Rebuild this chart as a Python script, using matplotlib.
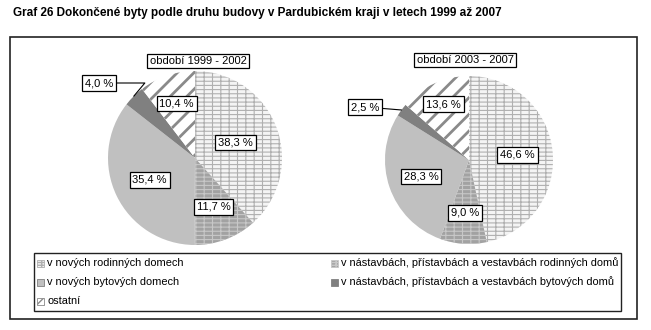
import numpy as np
import matplotlib.pyplot as plt
from matplotlib.patches import Rectangle

plt.rcParams['font.family'] = ['Liberation Sans', 'DejaVu Sans']

title = 'Graf 26 Dokončené byty podle druhu budovy v Pardubickém kraji v letech 1999 až 2007'
categories = ['v nových rodinných domech',
              'v nástavbách, přístavbách a vestavbách rodinných domů',
              'v nových bytových domech',
              'v nástavbách, přístavbách a vestavbách bytových domů',
              'ostatní']
period_titles = ['období 1999 - 2002', 'období 2003 - 2007']
share_9902 = [38.3, 11.7, 35.4, 4.0, 10.4]
share_0307 = [46.6, 9.0, 28.3, 2.5, 13.6]

# styles per category: face, hatch colour, hatch (density is x6 lines per inch)
faces = ['#f4f4f4', '#a2a2a2', '#c0c0c0', '#808080', '#ffffff']
hcols = ['#b0b0b0', '#c8c8c8', '#c0c0c0', '#808080', '#8a8a8a']
hatches = ['----||', '----||', None, None, '//']

W, H = 651, 330
fig = plt.figure(figsize=(W / 100, H / 100), dpi=100)
ax = fig.add_axes([0, 0, 1, 1])


def Y(py):
    return H - py


def draw_pie(vals, cx, cy, r, ttl, tx, ty, fracs, small, conn):
    wedges, _ = ax.pie(vals, startangle=90, counterclock=False,
                       center=(cx, Y(cy)), radius=r, frame=True,
                       colors=faces, wedgeprops=dict(linewidth=0))
    for w, h, hc in zip(wedges, hatches, hcols):
        w.set_edgecolor(hc)
        if h:
            w.set_hatch(h)
            w.set_hatch_linewidth(2.0 if h.startswith('/') else 0.8)
    box = dict(boxstyle='square,pad=0.25', fc='white', ec='black', lw=0.9)
    for i, (w, v) in enumerate(zip(wedges, vals)):
        a = np.deg2rad((w.theta1 + w.theta2) / 2)
        lab = f'{v:.1f} %'.replace('.', ',')
        if i == small[0]:
            ex, ey = cx + r * np.cos(a), Y(cy) + r * np.sin(a)
            bx, by = small[1], small[2]
            ax.annotate(lab, xy=(ex, ey), xytext=(bx, Y(by)), fontsize=8,
                        ha='center', va='center', bbox=box,
                        arrowprops=dict(arrowstyle='-', lw=0.8, color='black',
                                        shrinkA=0, shrinkB=0,
                                        connectionstyle=conn))
        else:
            d = fracs[i] * r
            ax.text(cx + d * np.cos(a), Y(cy) + d * np.sin(a), lab, fontsize=8,
                    ha='center', va='center', bbox=box)
    ax.text(tx, Y(ty), ttl, fontsize=8, ha='center', va='center',
            bbox=dict(boxstyle='square,pad=0.2', fc='white', ec='black', lw=0.9))


draw_pie(share_9902, 195, 158, 87, period_titles[0], 198, 61,
         [0.5, 0.6, 0.58, 0, 0.66], (3, 99, 83), 'angle,angleA=0,angleB=50,rad=0')
draw_pie(share_0307, 469, 160, 84, period_titles[1], 465, 60,
         [0.58, 0.63, 0.6, 0, 0.73], (3, 365, 107), 'arc3,rad=0')

# outer frame
ax.add_patch(Rectangle((10, Y(319)), 627, 282, fill=False, ec='#222222', lw=1.2))
ax.text(13, Y(13), title, fontsize=8.5, fontweight='bold', ha='left', va='center')

# legend box
ax.add_patch(Rectangle((34, Y(311)), 587, 58, fill=False, ec='#222222', lw=1.0))
leg_pos = [(37, 263), (331, 263), (37, 282), (331, 282), (37, 301)]
for i, (lx, ly) in enumerate(leg_pos):
    p = Rectangle((lx, Y(ly) - 3.5), 7, 7, fc=faces[i],
                  ec=hcols[i] if hatches[i] else '#808080', lw=0.6)
    if hatches[i]:
        p.set_hatch('------|||' if i < 2 else '////')
    ax.add_patch(p)
    ax.text(lx + 10, Y(ly), categories[i], fontsize=7.9, ha='left', va='center')

ax.set_xlim(0, W)
ax.set_ylim(0, H)
ax.set_aspect('auto')
ax.axis('off')

fig.savefig('out.png', dpi=100, facecolor='white')
